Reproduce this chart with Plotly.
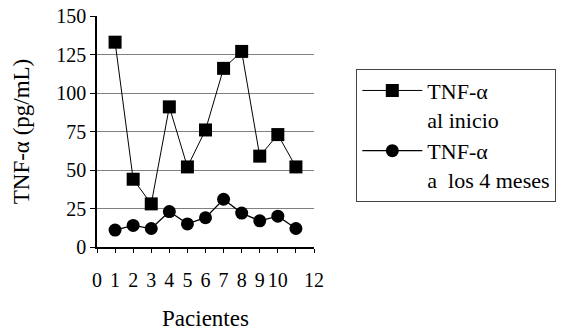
import plotly.graph_objects as go

pacientes = [1, 2, 3, 4, 5, 6, 7, 8, 9, 10, 11]
tnf_inicio = [133, 44, 28, 91, 52, 76, 116, 127, 59, 73, 52]
tnf_4meses = [11, 14, 12, 23, 15, 19, 31, 22, 17, 20, 12]

x_tickvals = list(range(0, 13))
x_ticktext = ["0", "1", "2", "3", "4", "5", "6", "7", "8", "9", "10", "", "12"]
y_tickvals = [0, 25, 50, 75, 100, 125, 150]
grid_vals = [25, 50, 75, 100, 125]

FONT = "Liberation Serif"

fig = go.Figure()
fig.add_trace(go.Scatter(
    x=pacientes, y=tnf_inicio, mode="lines+markers",
    name="TNF-α<br>al inicio",
    line=dict(color="black", width=1),
    marker=dict(symbol="square", size=13, color="black"),
))
fig.add_trace(go.Scatter(
    x=pacientes, y=tnf_4meses, mode="lines+markers",
    name="TNF-α<br>a\u00a0 los 4 meses",
    line=dict(color="black", width=1.3),
    marker=dict(symbol="circle", size=13, color="black"),
))
# invisible trace for grid axis
fig.add_trace(go.Scatter(x=[0], y=[0], yaxis="y2", mode="markers",
                         marker=dict(opacity=0), showlegend=False, hoverinfo="skip"))

fig.update_layout(
    width=580, height=331,
    margin=dict(l=97, r=266, t=16, b=84),
    paper_bgcolor="white", plot_bgcolor="white",
    font=dict(family=FONT, color="black", size=20),
    showlegend=True,
    legend=dict(
        x=1.195, y=0.772, xanchor="left", yanchor="top",
        bordercolor="#444", borderwidth=1,
        font=dict(family=FONT, size=22, color="black"),
        valign="top", tracegroupgap=0, itemwidth=60,
        entrywidth=200,
    ),
    xaxis=dict(
        range=[0, 12], tickvals=x_tickvals, ticktext=x_ticktext,
        showline=True, linecolor="black", linewidth=1.5,
        ticks="outside", ticklen=4, tickcolor="black",
        showgrid=False, zeroline=False, automargin=False,
        tickfont=dict(family=FONT, size=20),
        ticklabelstandoff=10,
        title=dict(text="Pacientes", font=dict(family=FONT, size=23), standoff=22),
    ),
    yaxis=dict(
        range=[0, 150], tickvals=y_tickvals,
        showline=True, linecolor="black", linewidth=1.5,
        ticks="outside", ticklen=5, tickcolor="black",
        showgrid=False, zeroline=False, automargin=False,
        tickfont=dict(family=FONT, size=20),
        title=dict(text="TNF-α (pg/mL)", font=dict(family=FONT, size=23), standoff=20),
    ),
    yaxis2=dict(
        range=[0, 150], tickvals=grid_vals, overlaying="y",
        showgrid=True, gridcolor="#808080", gridwidth=1, automargin=False,
        showticklabels=False, ticks="", showline=False, zeroline=False,
    ),
)

fig.write_html("out.html")
